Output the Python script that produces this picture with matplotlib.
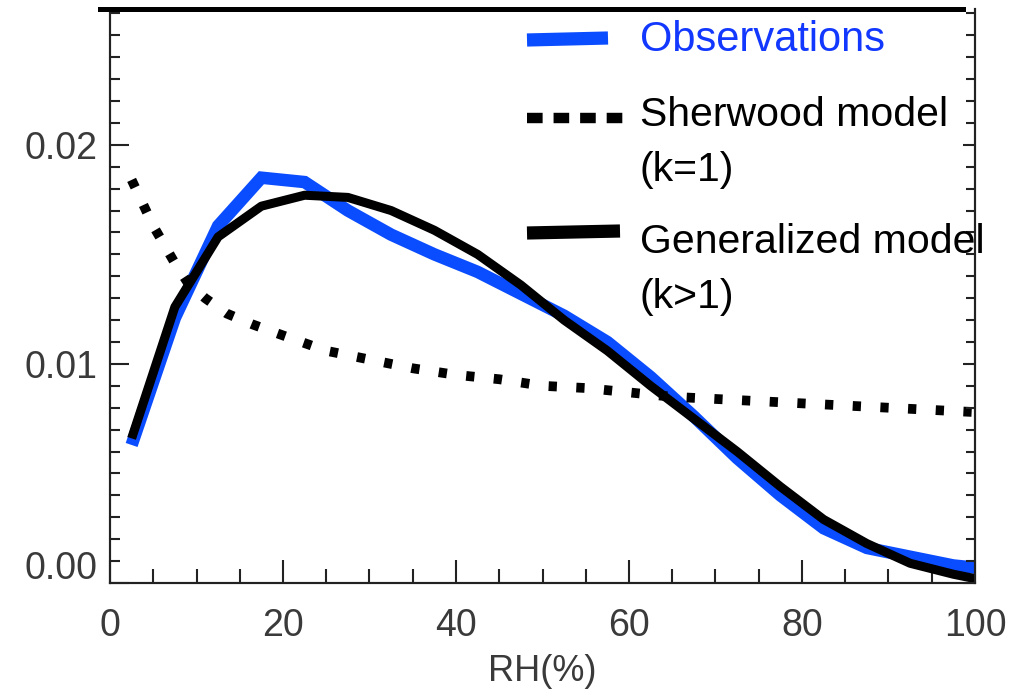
import numpy as np
import matplotlib
matplotlib.use("Agg")
import matplotlib.pyplot as plt
from matplotlib.lines import Line2D
from matplotlib.ticker import MultipleLocator

plt.rcParams['font.family'] = ['Liberation Sans', 'DejaVu Sans']

# observations (blue)
rh_obs = [2.5, 7.5, 12.5, 17.5, 22.5, 27.5, 32.5, 37.5, 42.5, 47.5, 52.5,
          57.5, 62.5, 67.5, 72.5, 77.5, 82.5, 87.5, 92.5, 97.5, 100]
pdf_obs = [0.0063, 0.0121, 0.0163, 0.0185, 0.0183, 0.0170, 0.0159, 0.0150,
           0.0142, 0.0132, 0.0122, 0.0110, 0.0094, 0.0076, 0.0057, 0.0040,
           0.0025, 0.0016, 0.0012, 0.0008, 0.0007]

# Sherwood model, k=1 (dotted)
rh_sher = [2.5, 5, 7.5, 9, 11, 13.5, 16.5, 20, 25, 30, 35, 40, 45, 50, 55,
           60, 65, 70, 75, 80, 85, 90, 95, 100]
pdf_sher = [0.0184, 0.0163, 0.0146, 0.0137, 0.0130, 0.0123, 0.0118, 0.0113,
            0.0106, 0.0102, 0.0098, 0.0095, 0.0093, 0.0090, 0.0089, 0.0087,
            0.0085, 0.0084, 0.0083, 0.0082, 0.0081, 0.0080, 0.0079, 0.0078]

# generalized model, k>1 (solid black)
rh_gen = [2.5, 7.5, 12.5, 17.5, 22.5, 27.5, 32.5, 37.5, 42.5, 47.5, 52.5,
          57.5, 62.5, 67.5, 72.5, 77.5, 82.5, 87.5, 92.5, 97.5, 100]
pdf_gen = [0.0066, 0.0126, 0.0158, 0.0172, 0.0177, 0.0176, 0.0170, 0.0161,
           0.0150, 0.0136, 0.0120, 0.0106, 0.0090, 0.0075, 0.0060, 0.0044,
           0.0029, 0.0018, 0.0009, 0.0004, 0.0002]

blue = '#0a4cff'
ink = '#222222'
grey = '#3a3a3a'

fig = plt.figure(figsize=(10.3, 6.91), dpi=100)
ax = fig.add_axes([110/1030, 1 - 583/691, 865/1030, 574/691])

ax.plot(rh_obs, pdf_obs, color=blue, lw=9, solid_joinstyle='miter',
        solid_capstyle='butt', zorder=2)
ax.plot(rh_sher, pdf_sher, color='black', lw=7, linestyle=(0, (0.85, 2.0)),
        dash_capstyle='butt', zorder=3)
ax.plot(rh_gen, pdf_gen, color='black', lw=6.5, solid_joinstyle='round',
        solid_capstyle='butt', zorder=4)

ax.set_xlim(0, 100)
ax.set_ylim(0, 0.0262)
ax.xaxis.set_major_locator(MultipleLocator(20))
ax.xaxis.set_minor_locator(MultipleLocator(5))
ax.set_yticks([0, 0.01, 0.02])
ax.set_yticklabels(['', '0.01', '0.02'])
ax.yaxis.set_minor_locator(MultipleLocator(0.001))

ax.tick_params(axis='x', which='major', direction='in', length=16.5, width=1.5,
               color=ink, labelsize=27, labelcolor=grey, pad=18)
ax.tick_params(axis='x', which='minor', direction='in', length=10, width=1.5, color=ink)
ax.tick_params(axis='y', which='major', direction='in', length=14, width=1.5,
               color=ink, labelsize=27, labelcolor=grey, pad=9)
ax.tick_params(axis='y', which='minor', direction='in', length=7, width=1.5, color=ink)
ax.annotate('0.00', xy=(0, 0), xycoords=('axes fraction', 'data'),
            xytext=(-9, 10), textcoords='offset points', ha='right', va='center',
            fontsize=27, color=grey)

# right side ticks, a bit shorter
ax2 = ax.twinx()
ax2.set_ylim(ax.get_ylim())
ax2.set_yticks([0, 0.01, 0.02])
ax2.yaxis.set_minor_locator(MultipleLocator(0.001))
ax2.tick_params(axis='y', which='major', direction='in', length=9, width=1.5,
                color=ink, labelright=False)
ax2.tick_params(axis='y', which='minor', direction='in', length=6.5, width=1.5, color=ink)

for a in (ax, ax2):
    a.spines['top'].set_visible(False)
    for s in ('left', 'right', 'bottom'):
        a.spines[s].set_linewidth(1.5)
        a.spines[s].set_color(ink)

ax.set_xlabel('RH(%)', fontsize=26, color=grey, labelpad=7)

# thick line along the top
fig.add_artist(Line2D([100/1030, 963/1030], [1 - 8.5/691, 1 - 8.5/691],
                      color='black', lw=3.6, transform=fig.transFigure))

# legend drawn by hand
def fx(px):
    return px / 1030

def fy(py):
    return 1 - py / 691

fig.add_artist(Line2D([fx(527), fx(608)], [fy(40), fy(38)], color=blue, lw=9.5,
                      solid_capstyle='butt', transform=fig.transFigure))
fig.add_artist(Line2D([fx(527), fx(624)], [fy(118), fy(118)], color='black', lw=7.5,
                      linestyle=(0, (1.5, 1.05)), dash_capstyle='butt',
                      transform=fig.transFigure))
fig.add_artist(Line2D([fx(527), fx(620)], [fy(233), fy(231)], color='black', lw=9.5,
                      solid_capstyle='butt', transform=fig.transFigure))

fig.text(fx(640), fy(40), 'Observations', fontsize=30, color='#1238ff', va='center')
fig.text(fx(640), fy(115), 'Sherwood model', fontsize=29.5, color='black', va='center')
fig.text(fx(640), fy(170), '(k=1)', fontsize=29.5, color='black', va='center')
fig.text(fx(640), fy(242), 'Generalized model', fontsize=29.5, color='black', va='center')
fig.text(fx(640), fy(297), '(k>1)', fontsize=29.5, color='black', va='center')

fig.savefig('out.png', dpi=100)
